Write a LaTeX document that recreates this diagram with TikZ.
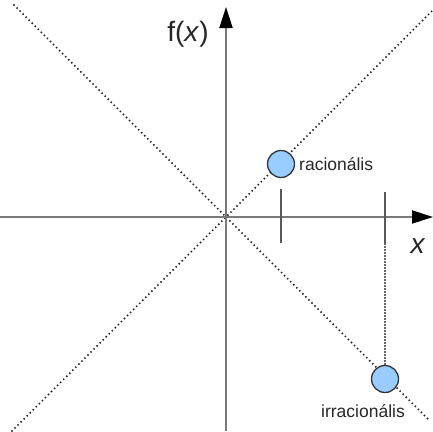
\documentclass[tikz,border=0pt]{standalone}
\usepackage{fontspec}
\setmainfont{Liberation Sans}
\usetikzlibrary{arrows.meta}
\definecolor{ptfill}{HTML}{99CCFF}
\begin{document}
\begin{tikzpicture}[x=1pt,y=-1pt,
  axis/.style={draw=gray!95!black,line width=2pt},
  axisarrow/.style={axis,-{Triangle[length=21pt,width=13pt,black]}},
  diag/.style={draw=black!85,line width=2.1pt,line cap=round,dash pattern=on 0pt off 4.3pt},
  tickline/.style={draw=black!65,line width=2pt},
  proj/.style={draw=black!60,line width=1.7pt,dash pattern=on 1.5pt off 1.5pt},
  pt/.style={circle,draw=black!80,line width=1.3pt,fill=ptfill,minimum size=27pt,inner sep=0pt},
  lbl/.style={font=\fontsize{17.5}{19}\selectfont,text=black!85,inner sep=0pt},
  axlbl/.style={font=\fontsize{28}{30}\selectfont,text=black!85,inner sep=0pt}]
\useasboundingbox (0,0) rectangle (433,431);
% coordinates
\coordinate (O) at (226,217);
\coordinate (xl) at (0,217);
\coordinate (xr) at (433,217);
\coordinate (yb) at (226,431);
\coordinate (yt) at (226,7);
\coordinate (d1a) at (14,5);
\coordinate (d1b) at (430,421);
\coordinate (d2a) at (12,431);
\coordinate (d2b) at (432,11);
\coordinate (t1a) at (281,189);
\coordinate (t1b) at (281,243);
\coordinate (t2a) at (385,192);
\coordinate (t2b) at (385,243);
% diagonals
\draw[diag] (d1a) -- (d1b);
\draw[diag] (d2a) -- (d2b);
% axes
\draw[axisarrow] (xl) -- (xr);
\draw[axisarrow] (yb) -- (yt);
% ticks
\draw[tickline] (t1a) -- (t1b);
\draw[tickline] (t2a) -- (t2b);
% points
\node[pt] (R) at (281,164) {};
\node[pt] (I) at (385,379) {};
\draw[proj] (t2b) -- (I.north);
% labels
\node[lbl,anchor=west] (Rl) at (299,164) {racionális};
\node[lbl] (Il) at (363,411) {irracionális};
\node[axlbl] (fx) at (188,34) {f(\textit{x})};
\node[axlbl] (xx) at (418,246) {\textit{x}};
\end{tikzpicture}
\end{document}
